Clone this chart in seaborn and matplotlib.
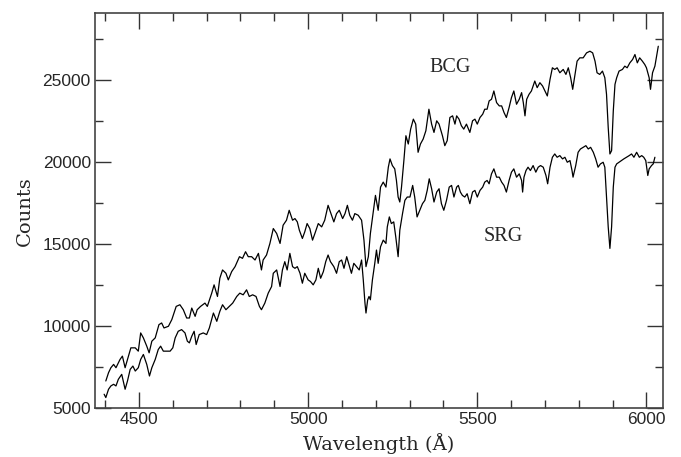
import matplotlib
matplotlib.use("Agg")
import matplotlib.pyplot as plt
import seaborn as sns
import pandas as pd
from matplotlib.ticker import MultipleLocator

# BCG spectrum (wavelength in A, counts)
bcg_wl = [4402, 4410, 4417, 4425, 4432, 4444, 4451, 4459, 4469, 4476, 4489, 4498,
          4505, 4513, 4523, 4530, 4538, 4548, 4559, 4567, 4574, 4587, 4597, 4610,
          4621, 4631, 4641, 4649, 4656, 4666, 4672, 4682, 4695, 4702, 4715, 4722,
          4732, 4739, 4747, 4757, 4764, 4774, 4784, 4797, 4806, 4815, 4823, 4833,
          4843, 4853, 4862, 4867, 4877, 4887, 4897, 4907, 4917, 4926, 4936, 4944,
          4954, 4961, 4968, 4974, 4983, 4990, 4997, 5005, 5013, 5020, 5030, 5040,
          5049, 5059, 5069, 5076, 5084, 5092, 5102, 5109, 5116, 5123, 5131, 5138,
          5148, 5158, 5165, 5171, 5178, 5184, 5192, 5199, 5207, 5214, 5222, 5230,
          5237, 5242, 5249, 5256, 5261, 5266, 5271, 5276, 5283, 5289, 5296, 5303,
          5311, 5318, 5325, 5332, 5340, 5348, 5357, 5365, 5372, 5380, 5387, 5397,
          5404, 5411, 5419, 5427, 5434, 5439, 5446, 5453, 5460, 5468,
          5478, 5486, 5493, 5500, 5508, 5516, 5522, 5529, 5535, 5542, 5549, 5557,
          5565, 5572, 5579, 5586, 5594, 5601, 5608, 5616, 5624, 5631, 5636, 5641,
          5646, 5653, 5660, 5670, 5677, 5685, 5693, 5700, 5707, 5715, 5722, 5729,
          5736, 5744, 5754, 5762, 5769, 5776, 5782, 5788, 5795, 5803, 5813, 5823,
          5833, 5841, 5848, 5854, 5862, 5870, 5877, 5882, 5887, 5892, 5897, 5902,
          5907, 5912, 5919, 5929, 5936, 5943, 5951, 5959, 5966, 5973, 5980, 5988,
          5995, 6000, 6008, 6012, 6018, 6025, 6030, 6035]
bcg_counts = [6649, 7154, 7457, 7659, 7457, 7962, 8164, 7457, 8164, 8669, 8669, 8467,
              9579, 9276, 8771, 8367, 9074, 9276, 10084, 10186, 9882, 9984, 10388, 11196,
              11297, 10994, 10489, 10489, 11095, 10590, 10994, 11196, 11398, 11196, 12004, 12510,
              11802, 12914, 13419, 13217, 12813, 13318, 13621, 14228, 14127, 14531, 14228, 14228,
              14026, 14430, 13419, 14026, 14329, 15036, 15945, 15642, 15036, 16147, 16451, 17057,
              16451, 16552, 16350, 15844, 15339, 15743, 16248, 15945, 15238, 15642, 16248, 16046,
              16451, 17360, 16754, 16350, 16855, 17057, 16552, 16855, 17360, 16754, 16451, 16855,
              16754, 16451, 15238, 13621, 14228, 15642, 16855, 17966, 17057, 18472, 18775, 18472,
              19684, 20190, 19785, 19583, 18876, 17866, 17562, 18472, 20088, 21604, 21099, 22008,
              22615, 22312, 20594, 21099, 21402, 21907, 23221, 22312, 21806, 22514, 22312, 21604,
              20998, 21301, 22716, 22817, 22312, 22817, 22615, 22211, 22008, 22312,
              21806, 22514, 22615, 22312, 22716, 22918, 23221, 23221, 23726, 23827, 24333, 23625,
              23423, 23423, 23019, 22716, 23322, 23928, 24333, 23524, 23827, 24232, 23625, 22817,
              23827, 24131, 24333, 24939, 24535, 24838, 24636, 24333, 24030, 25040, 25747, 25646,
              25747, 25444, 25646, 25343, 25747, 25141, 24434, 25242, 26151, 26354, 26354, 26657,
              26758, 26657, 26151, 25444, 25343, 25545, 25141, 24131, 22110, 20493, 20695, 23120,
              24737, 25141, 25545, 25646, 25848, 25747, 26050, 26252, 26556, 26050, 26354, 26151,
              25949, 25747, 25141, 24434, 25444, 25848, 26455, 27061]

# SRG spectrum
srg_wl = [4397, 4402, 4410, 4417, 4425, 4432, 4439, 4449, 4459, 4466, 4474, 4482,
          4489, 4498, 4505, 4513, 4523, 4531, 4538, 4548, 4557, 4564, 4572, 4582,
          4592, 4600, 4607, 4616, 4626, 4636, 4643, 4649, 4656, 4663, 4669, 4678,
          4690, 4700, 4708, 4720, 4730, 4739, 4747, 4757, 4767, 4777, 4789, 4798,
          4808, 4818, 4826, 4836, 4846, 4856, 4862, 4872, 4882, 4892, 4897, 4907,
          4917, 4924, 4931, 4938, 4946, 4954, 4961, 4968, 4976, 4983, 4990, 5000,
          5007, 5015, 5023, 5030, 5037, 5045, 5052, 5059, 5066, 5076, 5084, 5092,
          5099, 5106, 5114, 5121, 5128, 5135, 5143, 5151, 5158, 5163, 5168, 5171,
          5176, 5180, 5184, 5190, 5197, 5202, 5207, 5214, 5222, 5230, 5234, 5240,
          5246, 5253, 5259, 5266, 5271, 5279, 5286, 5293, 5301, 5309, 5315, 5322,
          5330, 5338, 5345, 5352, 5358, 5365, 5372, 5380, 5387, 5394, 5401, 5409,
          5417, 5424, 5431, 5439, 5444, 5450, 5456, 5463, 5470,
          5478, 5486, 5493, 5500, 5508, 5516, 5522, 5529, 5535, 5542, 5549, 5557,
          5565, 5572, 5579, 5586, 5594, 5601, 5608, 5616, 5624, 5631, 5634, 5638,
          5644, 5650, 5657, 5665, 5673, 5680, 5687, 5695, 5703, 5708, 5715, 5722,
          5729, 5736, 5744, 5752, 5759, 5766, 5774, 5780, 5783, 5791, 5798, 5805,
          5813, 5821, 5828, 5835, 5843, 5850, 5857, 5864, 5872, 5877, 5882, 5887,
          5892, 5897, 5902, 5907, 5912, 5919, 5926, 5933, 5941, 5949, 5956, 5963,
          5971, 5979, 5986, 5992, 5998, 6004, 6008, 6015, 6020, 6025]
srg_counts = [5840, 5638, 6144, 6346, 6447, 6346, 6750, 7053, 6144, 6649, 7356, 7558,
              7255, 7457, 7962, 8266, 7659, 6952, 7457, 7962, 8569, 8771, 8467, 8467,
              8467, 8669, 9276, 9680, 9781, 9579, 9074, 8973, 9377, 9680, 8872, 9478,
              9579, 9478, 9882, 10792, 10287, 10893, 11297, 10994, 11196, 11398, 11802, 12004,
              11903, 12207, 11802, 11903, 11802, 11196, 10994, 11398, 12004, 12409, 13217, 13419,
              12409, 13419, 13924, 13419, 14430, 13621, 13520, 13621, 13217, 12611, 13217, 12813,
              12712, 12510, 12813, 13520, 12914, 13318, 13924, 14329, 13924, 13621, 13217, 13924,
              14026, 13520, 14228, 13722, 13217, 13823, 13621, 13419, 14026, 12813, 11398, 10792,
              11600, 11802, 11600, 12813, 13823, 14632, 13823, 14834, 15238, 15036, 16046, 16653,
              16248, 16350, 15440, 14228, 15844, 16855, 17663, 17866, 17866, 18573, 17866, 16653,
              17057, 17461, 17663, 18270, 18977, 18371, 17562, 18169, 18371, 17461, 17057, 17663,
              18472, 18573, 17866, 18472, 18573, 18169, 17966, 17866, 18068,
              17461, 18169, 18270, 17865, 18270, 18472, 18775, 18876, 18674, 19280, 19583, 19078,
              19078, 18775, 18573, 18169, 18876, 19381, 19583, 19078, 19280, 18876, 18169, 19078,
              19482, 19684, 19482, 19785, 19381, 19684, 19785, 19684, 19179, 18674, 19684, 20291,
              20493, 20291, 20392, 20190, 20291, 19987, 20088, 19482, 19078, 19785, 20594, 20796,
              20897, 20998, 20796, 20897, 20594, 20190, 19684, 19886, 19987, 19684, 17865, 16046,
              14733, 16046, 18472, 19684, 19886, 19987, 20088, 20190, 20291, 20392, 20493, 20291,
              20594, 20291, 20392, 20291, 20088, 19179, 19583, 19785, 19886, 20291]

labels = ["BCG", "SRG"]
label_pos = [(5421, 25790), (5577, 15440)]

sns.set_style("ticks")

fig = plt.figure(figsize=(6.81, 4.57), dpi=100)
ax = fig.add_axes([0.1395, 0.1072, 0.8336, 0.8637])

bcg = pd.DataFrame({"wl": bcg_wl, "counts": bcg_counts})
srg = pd.DataFrame({"wl": srg_wl, "counts": srg_counts})
sns.lineplot(data=bcg, x="wl", y="counts", color="black", lw=0.9,
             estimator=None, sort=False, ax=ax)
sns.lineplot(data=srg, x="wl", y="counts", color="black", lw=0.9,
             estimator=None, sort=False, ax=ax)

for txt, (x, y) in zip(labels, label_pos):
    ax.text(x, y, txt, ha="center", va="center", fontsize=14.5,
            family="Liberation Serif")

ax.set_xlim(4370, 6048)
ax.set_ylim(5000, 29070)
ax.xaxis.set_major_locator(MultipleLocator(500))
ax.xaxis.set_minor_locator(MultipleLocator(100))
ax.yaxis.set_major_locator(MultipleLocator(5000))
ax.yaxis.set_minor_locator(MultipleLocator(2500))
ax.tick_params(which="both", direction="in", top=True, right=True,
               color="#333333", width=1.0, labelsize=12.5, pad=3)
ax.tick_params(which="major", length=11.5)
ax.tick_params(which="minor", length=6)
for lab in ax.get_xticklabels() + ax.get_yticklabels():
    lab.set_family("Liberation Sans")
for s in ax.spines.values():
    s.set_color("#444444")
    s.set_linewidth(1.2)

ax.set_xlabel("Wavelength (Å)", family="DejaVu Serif", fontsize=14, labelpad=4)
ax.set_ylabel("Counts", family="DejaVu Serif", fontsize=14, labelpad=6)

fig.savefig("out.png", dpi=100)
